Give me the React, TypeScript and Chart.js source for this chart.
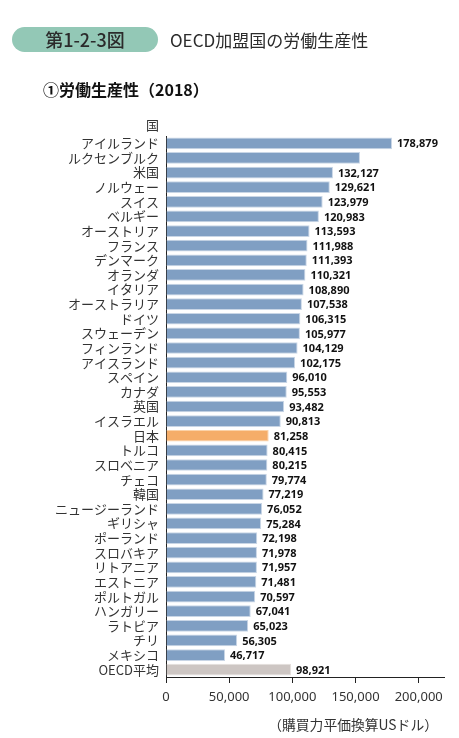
import { useEffect, useRef } from 'react';
import Chart from 'chart.js/auto';

const countries = [
  'アイルランド', 'ルクセンブルク', '米国', 'ノルウェー', 'スイス', 'ベルギー',
  'オーストリア', 'フランス', 'デンマーク', 'オランダ', 'イタリア', 'オーストラリア',
  'ドイツ', 'スウェーデン', 'フィンランド', 'アイスランド', 'スペイン', 'カナダ',
  '英国', 'イスラエル', '日本', 'トルコ', 'スロベニア', 'チェコ', '韓国',
  'ニュージーランド', 'ギリシャ', 'ポーランド', 'スロバキア', 'リトアニア',
  'エストニア', 'ポルトガル', 'ハンガリー', 'ラトビア', 'チリ', 'メキシコ', 'OECD平均',
];

const productivity = [
  178879, 153500, 132127, 129621, 123979, 120983, 113593, 111988, 111393, 110321,
  108890, 107538, 106315, 105977, 104129, 102175, 96010, 95553, 93482, 90813,
  81258, 80415, 80215, 79774, 77219, 76052, 75284, 72198, 71978, 71957,
  71481, 70597, 67041, 65023, 56305, 46717, 98921,
];

// ルクセンブルクは元図に数値の表示がない
const valueLabels = productivity.map((v, i) => (i === 1 ? null : v.toLocaleString('en-US')));

const xTicks = [0, 50000, 100000, 150000, 200000];

const JP_FONT = '"Noto Sans CJK JP", "Noto Sans", sans-serif';

const barColors = countries.map(c =>
  c === '日本' ? '#f5ad69' : c === 'OECD平均' ? '#cdc6c3' : '#809fc3'
);
const borderColors = countries.map(c =>
  c === '日本' ? '#fbd2a8' : c === 'OECD平均' ? '#e4dfdd' : '#c9d6e6'
);

const valueLabelPlugin = {
  id: 'valueLabels',
  afterDatasetsDraw(chart: any) {
    const { ctx } = chart;
    const meta = chart.getDatasetMeta(0);
    ctx.save();
    ctx.font = 'bold 11px "Noto Sans", sans-serif';
    ctx.fillStyle = '#111';
    ctx.textAlign = 'left';
    ctx.textBaseline = 'middle';
    meta.data.forEach((bar: any, i: number) => {
      const text = valueLabels[i];
      if (!text) return;
      ctx.fillText(text, bar.x + 5, bar.y + 1);
    });
    // 軸の見出し「国」
    const yScale = chart.scales.y;
    ctx.font = `13px ${JP_FONT}`;
    ctx.fillStyle = '#333';
    ctx.textAlign = 'right';
    ctx.fillText('国', yScale.right - 7, chart.chartArea.top - 11);
    ctx.restore();
  },
};

const ProductivityChart = () => {
  const canvasRef = useRef<HTMLCanvasElement | null>(null);
  const chartRef = useRef<Chart | null>(null);

  useEffect(() => {
    if (!canvasRef.current) return;
    const ctx = canvasRef.current.getContext('2d');
    if (!ctx) return;
    if (chartRef.current) chartRef.current.destroy();

    chartRef.current = new Chart(ctx, {
      type: 'bar',
      data: {
        labels: countries,
        datasets: [
          {
            data: productivity,
            backgroundColor: barColors,
            borderColor: borderColors,
            borderWidth: 1,
            categoryPercentage: 1,
            barPercentage: 0.8,
          },
        ],
      },
      options: {
        indexAxis: 'y',
        animation: false,
        responsive: true,
        maintainAspectRatio: false,
        layout: { padding: { top: 136, bottom: 21, left: 0, right: 15 } },
        plugins: {
          legend: { display: false },
          tooltip: { enabled: false },
        },
        scales: {
          x: {
            min: 0,
            max: 220000,
            afterBuildTicks: (scale: any) => {
              scale.ticks = xTicks.map(v => ({ value: v }));
            },
            afterFit: (scale: any) => {
              scale.height = 40;
            },
            grid: {
              display: true,
              drawOnChartArea: false,
              drawTicks: true,
              tickLength: 6,
              color: '#222',
            },
            border: { display: true, color: '#222', width: 1 },
            ticks: {
              padding: 6,
              color: '#333',
              font: { family: '"Noto Sans", sans-serif', size: 13 },
              callback: (v: any) => Number(v).toLocaleString('en-US'),
            },
          },
          y: {
            afterFit: (scale: any) => {
              scale.width = 166;
            },
            grid: { display: false, drawTicks: false },
            border: { display: true, color: '#222', width: 1 },
            ticks: {
              autoSkip: false,
              padding: 7,
              color: '#333',
              font: { family: JP_FONT, size: 13 },
            },
          },
        },
      },
      plugins: [valueLabelPlugin],
    });

    return () => {
      if (chartRef.current) {
        chartRef.current.destroy();
        chartRef.current = null;
      }
    };
  }, []);

  return (
    <div style={{ position: 'absolute', left: 0, top: 0, width: 459, height: 738 }}>
      <canvas ref={canvasRef} />
    </div>
  );
};

const App = () => {
  return (
    <div
      style={{
        position: 'absolute',
        left: 0,
        top: 0,
        width: 459,
        height: 738,
        background: '#fff',
        fontFamily: JP_FONT,
        overflow: 'hidden',
      }}
    >
      <ProductivityChart />
      <div
        style={{
          position: 'absolute',
          left: 12,
          top: 27,
          width: 146,
          height: 25,
          borderRadius: 13,
          background: '#93c8b6',
          color: '#2b2b2b',
          fontSize: 18,
          fontWeight: 500,
          lineHeight: '25px',
          textAlign: 'center',
        }}
      >
        第1-2-3図
      </div>
      <div
        style={{
          position: 'absolute',
          left: 170,
          top: 27,
          height: 25,
          color: '#2b2b2b',
          fontSize: 17,
          lineHeight: '25px',
          whiteSpace: 'nowrap',
        }}
      >
        OECD加盟国の労働生産性
      </div>
      <div
        style={{
          position: 'absolute',
          left: 43,
          top: 79,
          color: '#111',
          fontSize: 16,
          fontWeight: 'bold',
          lineHeight: '20px',
          whiteSpace: 'nowrap',
        }}
      >
        ①労働生産性（2018）
      </div>
      <div
        style={{
          position: 'absolute',
          left: 0,
          top: 716,
          width: 438,
          textAlign: 'right',
          color: '#333',
          fontSize: 13.8,
          lineHeight: '16px',
          whiteSpace: 'nowrap',
        }}
      >
        （購買力平価換算USドル）
      </div>
    </div>
  );
};

export default App;
